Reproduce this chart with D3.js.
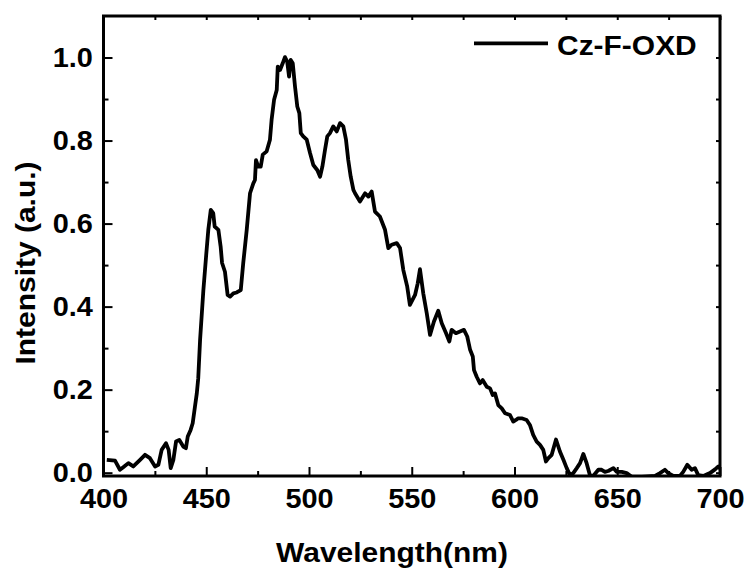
<!DOCTYPE html>
<html>
<head>
<meta charset="utf-8">
<script src="https://cdn.jsdelivr.net/npm/d3@7"></script>
<style>
  body { margin: 0; background: #fff; }
  text { font-family: "Liberation Sans", Arial, sans-serif; font-weight: bold; fill: #000; }
</style>
</head>
<body>
<div id="chart"></div>
<script>
// emission spectrum
const wavelength = [401.6,405.6,408.0,409.6,412.1,414.5,417.8,420.2,422.6,425.1,426.7,428.3,430.4,431.7,432.7,434.0,435.3,436.9,438.8,440.1,441.0,442.4,443.4,444.5,445.4,446.1,
  447.0,448.6,449.9,451.0,452.2,453.4,454.1,455.9,457.0,457.7,459.1,460.4,461.6,463.2,464.8,466.8,468.0,469.7,471.3,472.9,
  473.7,474.2,475.3,476.5,477.5,479.4,481.0,481.8,483.0,484.3,484.8,485.9,487.2,488.3,489.4,490.3,491.1,492.1,493.2,494.3,495.3,496.0,497.2,498.9,
  500.5,502.1,504.0,505.4,506.5,507.8,508.9,510.2,511.8,513.5,515.1,516.7,518.0,519.1,520.3,521.6,522.4,524.8,527.3,528.9,530.5,
  532.1,534.5,537.0,538.6,540.2,542.7,544.3,545.9,547.8,549.1,551.6,552.9,554.0,555.6,557.3,558.9,560.8,562.9,564.6,566.7,568.3,569.4,571.5,573.5,575.4,577.0,578.4,579.7,580.3,
  581.6,583.2,584.5,586.5,588.1,589.4,590.5,592.1,593.8,595.4,597.8,599.4,600.7,601.8,603.5,605.9,607.5,609.1,610.8,612.4,614.0,615.3,616.5,618.1,620.2,622.1,623.8,625.4,627.0,628.6,
  630.3,631.9,633.5,635.1,636.7,638.3,640.8,642.4,644.0,645.6,648.1,649.7,652.2,654.6,657.0,662.0,668.4,670.8,673.2,674.8,677.3,680.5,682.1,684.1,686.2,687.8,689.4,691.9,695.1,697.6,699.2,700.0];
const intensity = [0.031,0.029,0.007,0.013,0.023,0.015,0.031,0.043,0.035,0.015,0.019,0.055,0.071,0.055,0.011,0.031,0.075,0.079,0.063,0.059,0.087,0.103,0.119,0.159,0.191,0.227,
  0.320,0.440,0.520,0.585,0.633,0.625,0.593,0.585,0.545,0.505,0.484,0.428,0.424,0.432,0.434,0.440,0.505,0.585,0.673,0.697,
  0.705,0.753,0.737,0.737,0.766,0.774,0.802,0.850,0.898,0.922,0.978,0.970,0.986,1.001,0.990,0.954,0.994,0.986,0.930,0.882,0.866,0.818,0.810,0.802,
  0.770,0.741,0.729,0.713,0.737,0.778,0.810,0.818,0.834,0.822,0.842,0.834,0.802,0.753,0.713,0.681,0.673,0.653,0.673,0.665,0.677,
  0.629,0.617,0.585,0.541,0.549,0.553,0.541,0.488,0.448,0.404,0.428,0.456,0.490,0.432,0.384,0.332,0.364,0.390,0.360,0.336,0.316,0.344,0.336,0.340,0.344,0.328,0.296,0.280,0.247,
  0.231,0.215,0.223,0.207,0.203,0.187,0.191,0.163,0.155,0.143,0.139,0.123,0.127,0.131,0.131,0.127,0.115,0.091,0.075,0.067,0.055,0.027,0.035,0.043,0.080,0.051,0.031,0.011,-0.006,-0.001,
  0.011,0.023,0.045,0.023,-0.006,-0.008,0.007,0.007,0.002,0.004,0.011,0.002,0.002,-0.001,-0.010,-0.010,-0.008,-0.001,0.007,-0.001,-0.008,-0.008,0.002,0.019,0.007,0.011,-0.006,-0.008,-0.001,0.008,0.015,0.010];

const xTicks = [400, 450, 500, 550, 600, 650, 700];
const yTicks = [0.0, 0.2, 0.4, 0.6, 0.8, 1.0];
const seriesName = 'Cz-F-OXD';

const W = 748, H = 571;
const margin = {top: 16, right: 28, bottom: 95, left: 103.5};
const iw = W - margin.left - margin.right, ih = H - margin.top - margin.bottom;

const svg = d3.select('#chart').append('svg').attr('width', W).attr('height', H);
const g = svg.append('g').attr('transform', `translate(${margin.left},${margin.top})`);

const x = d3.scaleLinear().domain([400, 700]).range([0, iw]);
const y = d3.scaleLinear().domain([-0.008, 1.1]).range([ih, 0]);

g.append('clipPath').attr('id', 'clip').append('rect').attr('width', iw).attr('height', ih);

const pts = wavelength.map((w, i) => [w, intensity[i]]);
g.append('path')
  .datum(pts)
  .attr('clip-path', 'url(#clip)')
  .attr('fill', 'none')
  .attr('stroke', '#000')
  .attr('stroke-width', 3.8)
  .attr('stroke-linejoin', 'round')
  .attr('d', d3.line().x(d => x(d[0])).y(d => y(d[1])));

// minor ticks
const xMinor = d3.range(425, 700, 50);
const yMinor = d3.range(0.1, 1.1, 0.2);
g.append('g').attr('transform', `translate(0,${ih})`)
  .call(d3.axisBottom(x).tickValues(xMinor).tickSize(-5).tickFormat(''));
g.append('g')
  .call(d3.axisLeft(y).tickValues(yMinor).tickSize(-5).tickFormat(''));
g.append('g')
  .call(d3.axisTop(x).tickValues(d3.range(400, 701, 25)).tickSize(-4).tickFormat(''));
g.append('g').attr('transform', `translate(${iw},0)`)
  .call(d3.axisRight(y).tickValues(d3.range(0, 1.05, 0.1)).tickSize(-4).tickFormat(''));

const xa = g.append('g').attr('transform', `translate(0,${ih})`)
  .call(d3.axisBottom(x).tickValues(xTicks).tickSizeInner(-9).tickSizeOuter(0).tickPadding(13).tickFormat(d3.format('d')));
const ya = g.append('g')
  .call(d3.axisLeft(y).tickValues(yTicks).tickSizeInner(-9).tickSizeOuter(0).tickPadding(10).tickFormat(d3.format('.1f')));

[xa, ya].forEach(a => {
  a.selectAll('text').style('font-size', '27px').attr('fill', '#000').attr('transform', 'scale(1.07,1)');
  a.select('.domain').remove();
});
svg.selectAll('.tick line').attr('stroke', '#000').attr('stroke-width', 2);
svg.selectAll('.domain').attr('stroke', 'none');

g.append('rect').attr('width', iw).attr('height', ih)
  .attr('fill', 'none').attr('stroke', '#000').attr('stroke-width', 3);

// legend
g.append('line')
  .attr('x1', 474 - margin.left).attr('x2', 548 - margin.left)
  .attr('y1', 43.3 - margin.top).attr('y2', 43.3 - margin.top)
  .attr('stroke', '#000').attr('stroke-width', 3.8);
svg.append('text')
  .attr('transform', 'translate(557,55) scale(1.07,1)')
  .style('font-size', '28px')
  .text(seriesName);

// axis titles
svg.append('text')
  .attr('transform', 'translate(392,562) scale(1.07,1)')
  .attr('text-anchor', 'middle')
  .style('font-size', '28px')
  .text('Wavelength(nm)');
svg.append('text')
  .attr('transform', 'translate(35,263) rotate(-90) scale(1.07,1)')
  .attr('text-anchor', 'middle')
  .style('font-size', '28px')
  .text('Intensity (a.u.)');
</script>
</body>
</html>
